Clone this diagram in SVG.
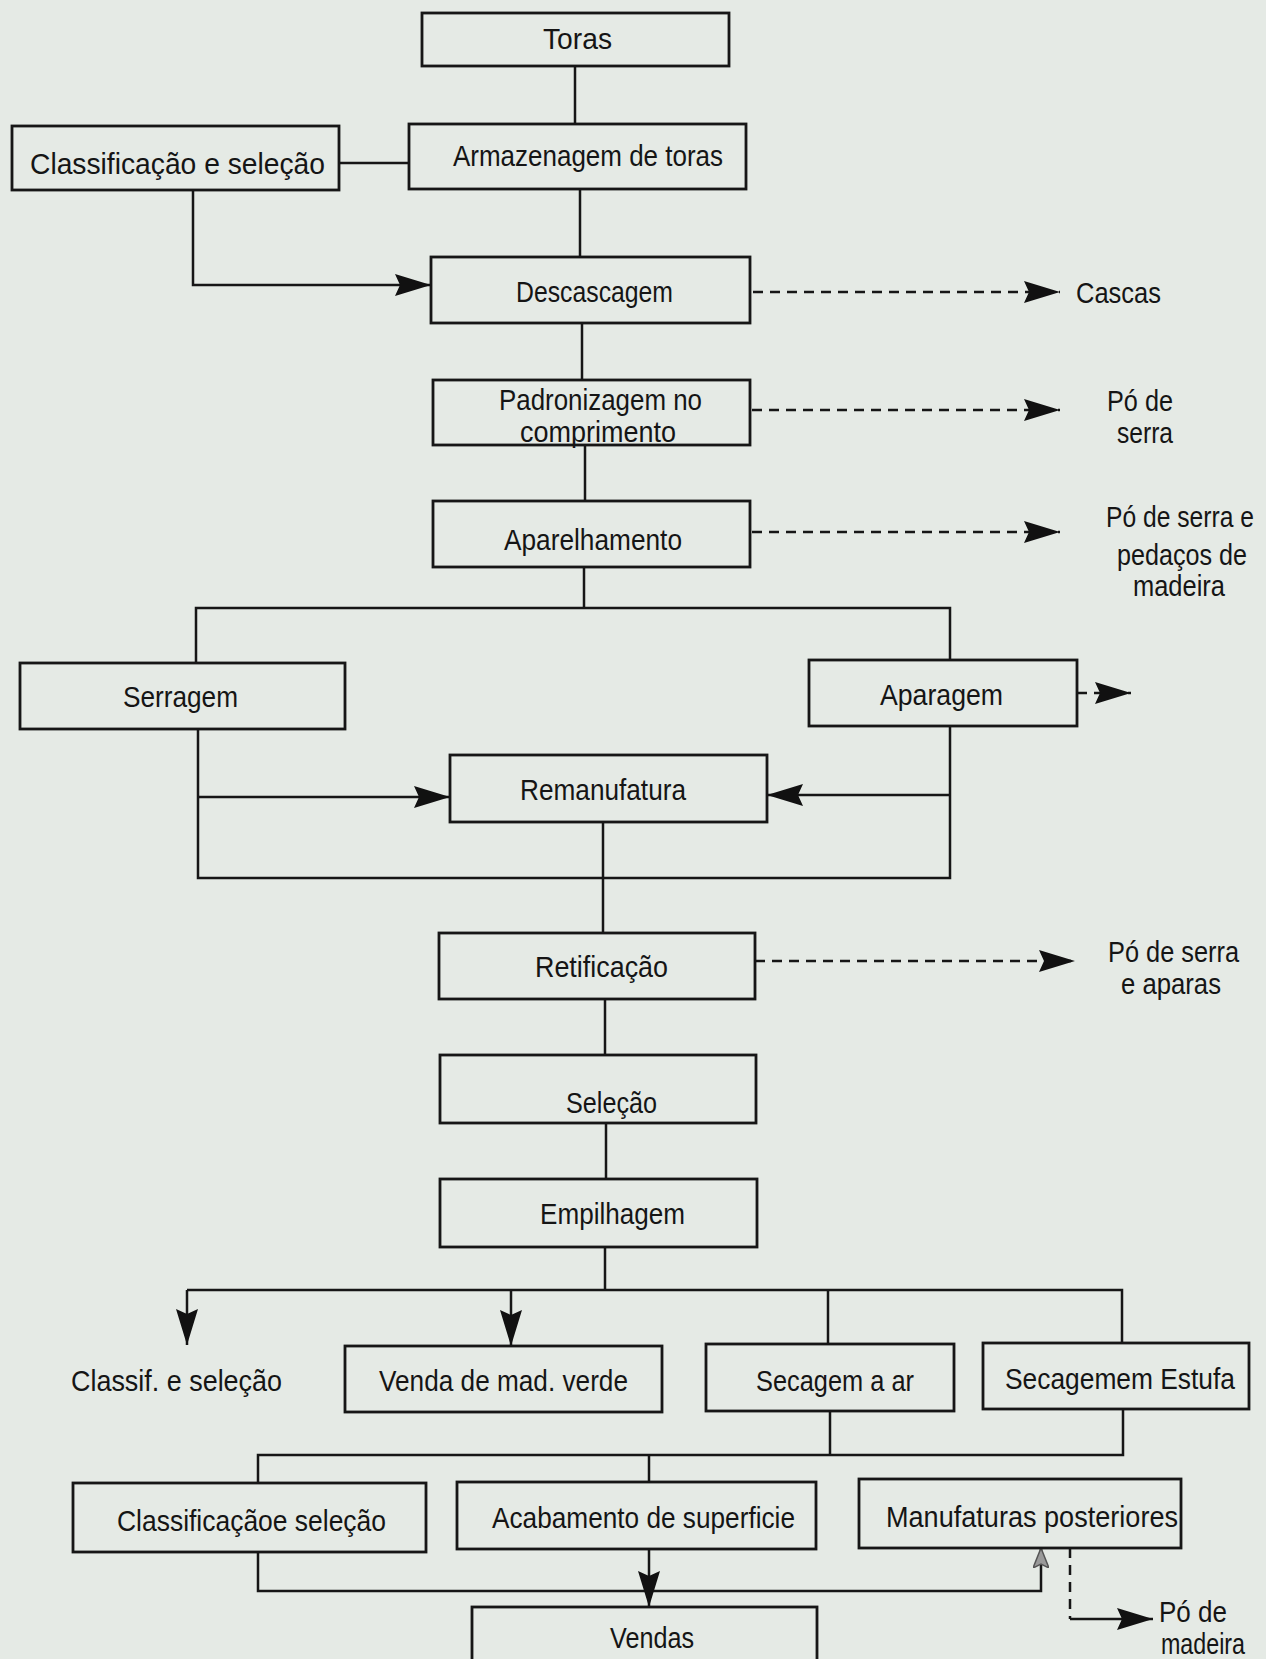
<svg xmlns="http://www.w3.org/2000/svg" width="1266" height="1659" viewBox="0 0 1266 1659">
<defs>
<style>
.bx{fill:none;stroke:#161616;stroke-width:2.8}
.ln{fill:none;stroke:#161616;stroke-width:2.5}
.ds{fill:none;stroke:#161616;stroke-width:2.5;stroke-dasharray:10 7}
.t{font-family:"Liberation Sans Narrow","Liberation Sans",Arial,sans-serif;font-size:30px;fill:#151515}
</style>
<marker id="ah" markerUnits="userSpaceOnUse" viewBox="0 0 36 22" markerWidth="36" markerHeight="22" refX="36" refY="11" orient="auto">
<path d="M0,0 L36,11 L0,22 L5,11 Z" fill="#111"/>
</marker>
<marker id="ahs" markerUnits="userSpaceOnUse" viewBox="0 0 20 16" markerWidth="20" markerHeight="16" refX="20" refY="8" orient="auto">
<path d="M0,0 L20,8 L0,16 L4,8 Z" fill="#9a9a9a" stroke="#555" stroke-width="1.5"/>
</marker>
</defs>
<rect width="1266" height="1659" fill="#e5eae5"/>

<g id="connectors">
<path class="ln" d="M575,66 V124"/>
<path class="ln" d="M339,163 H409"/>
<path class="ln" d="M580,189 V257"/>
<path class="ln" d="M193,190 V285 H431" marker-end="url(#ah)"/>
<path class="ln" d="M582,323 V380"/>
<path class="ln" d="M585,445 V501"/>
<path class="ds" d="M753,292 H1060" marker-end="url(#ah)"/>
<path class="ds" d="M752,410 H1060" marker-end="url(#ah)"/>
<path class="ds" d="M752,532 H1060" marker-end="url(#ah)"/>
<path class="ln" d="M584,567 V608"/>
<path class="ln" d="M196,663 V608 H950 V660"/>
<path class="ds" d="M1077,693 H1131" marker-end="url(#ah)"/>
<path class="ln" d="M198,729 V878 H950 V726"/>
<path class="ln" d="M198,797 H450" marker-end="url(#ah)"/>
<path class="ln" d="M950,795 H767" marker-end="url(#ah)"/>
<path class="ln" d="M603,822 V933"/>
<path class="ds" d="M755,961 H1075" marker-end="url(#ah)"/>
<path class="ln" d="M605,999 V1055"/>
<path class="ln" d="M606,1123 V1179"/>
<path class="ln" d="M605,1247 V1290"/>
<path class="ln" d="M187,1290 H1122 V1343"/>
<path class="ln" d="M187,1290 V1345" marker-end="url(#ah)"/>
<path class="ln" d="M511,1290 V1346" marker-end="url(#ah)"/>
<path class="ln" d="M828,1290 V1344"/>
<path class="ln" d="M830,1411 V1455"/>
<path class="ln" d="M1123,1409 V1455 H258 V1483"/>
<path class="ln" d="M649,1455 V1482"/>
<path class="ln" d="M258,1552 V1591 H1041 V1548" marker-end="url(#ahs)"/>
<path class="ln" d="M649,1549 V1607" marker-end="url(#ah)"/>
<path class="ds" d="M1070,1548 V1619"/>
<path class="ln" d="M1070,1619 H1153" marker-end="url(#ah)"/>
</g>

<g id="toras"><rect class="bx" x="422" y="13" width="307" height="53"/><text class="t" x="543" y="49" textLength="69" lengthAdjust="spacingAndGlyphs">Toras</text></g>
<g id="classificacao-selecao"><rect class="bx" x="12" y="126" width="327" height="64"/><text class="t" x="30" y="174" textLength="295" lengthAdjust="spacingAndGlyphs">Classificação  e  seleção</text></g>
<g id="armazenagem"><rect class="bx" x="409" y="124" width="337" height="65"/><text class="t" x="453" y="166" textLength="270" lengthAdjust="spacingAndGlyphs">Armazenagem de toras</text></g>
<g id="descascagem"><rect class="bx" x="431" y="257" width="319" height="66"/><text class="t" x="516" y="302" textLength="157" lengthAdjust="spacingAndGlyphs">Descascagem</text></g>
<g id="cascas"><text class="t" x="1076" y="303" textLength="85" lengthAdjust="spacingAndGlyphs">Cascas</text></g>
<g id="padronizagem"><rect class="bx" x="433" y="380" width="317" height="65"/><text class="t" x="499" y="410" textLength="203" lengthAdjust="spacingAndGlyphs">Padronizagem no</text><text class="t" x="520" y="442" textLength="156" lengthAdjust="spacingAndGlyphs">comprimento</text></g>
<g id="po-de-serra-1"><text class="t" x="1107" y="411" textLength="66" lengthAdjust="spacingAndGlyphs">Pó de</text><text class="t" x="1117" y="443" textLength="56" lengthAdjust="spacingAndGlyphs">serra</text></g>
<g id="aparelhamento"><rect class="bx" x="433" y="501" width="317" height="66"/><text class="t" x="504" y="550" textLength="178" lengthAdjust="spacingAndGlyphs">Aparelhamento</text></g>
<g id="po-pedacos"><text class="t" x="1106" y="527" textLength="148" lengthAdjust="spacingAndGlyphs">Pó de serra e</text><text class="t" x="1117" y="565" textLength="130" lengthAdjust="spacingAndGlyphs">pedaços de</text><text class="t" x="1133" y="596" textLength="92" lengthAdjust="spacingAndGlyphs">madeira</text></g>
<g id="serragem"><rect class="bx" x="20" y="663" width="325" height="66"/><text class="t" x="123" y="707" textLength="115" lengthAdjust="spacingAndGlyphs">Serragem</text></g>
<g id="aparagem"><rect class="bx" x="809" y="660" width="268" height="66"/><text class="t" x="880" y="705" textLength="123" lengthAdjust="spacingAndGlyphs">Aparagem</text></g>
<g id="remanufatura"><rect class="bx" x="450" y="755" width="317" height="67"/><text class="t" x="520" y="800" textLength="166" lengthAdjust="spacingAndGlyphs">Remanufatura</text></g>
<g id="retificacao"><rect class="bx" x="439" y="933" width="316" height="66"/><text class="t" x="535" y="977" textLength="133" lengthAdjust="spacingAndGlyphs">Retificação</text></g>
<g id="po-aparas"><text class="t" x="1108" y="962" textLength="131" lengthAdjust="spacingAndGlyphs">Pó de serra</text><text class="t" x="1121" y="994" textLength="100" lengthAdjust="spacingAndGlyphs">e aparas</text></g>
<g id="selecao"><rect class="bx" x="440" y="1055" width="316" height="68"/><text class="t" x="566" y="1113" textLength="91" lengthAdjust="spacingAndGlyphs">Seleção</text></g>
<g id="empilhagem"><rect class="bx" x="440" y="1179" width="317" height="68"/><text class="t" x="540" y="1224" textLength="145" lengthAdjust="spacingAndGlyphs">Empilhagem</text></g>
<g id="classif-selecao"><text class="t" x="71" y="1391" textLength="211" lengthAdjust="spacingAndGlyphs">Classif. e seleção</text></g>
<g id="venda-verde"><rect class="bx" x="345" y="1346" width="317" height="66"/><text class="t" x="379" y="1391" textLength="249" lengthAdjust="spacingAndGlyphs">Venda de mad. verde</text></g>
<g id="secagem-ar"><rect class="bx" x="706" y="1344" width="248" height="67"/><text class="t" x="756" y="1391" textLength="158" lengthAdjust="spacingAndGlyphs">Secagem a ar</text></g>
<g id="secagem-estufa"><rect class="bx" x="983" y="1343" width="266" height="66"/><text class="t" x="1005" y="1389" textLength="230" lengthAdjust="spacingAndGlyphs">Secagemem Estufa</text></g>
<g id="classificacao-selecao-2"><rect class="bx" x="73" y="1483" width="353" height="69"/><text class="t" x="117" y="1531" textLength="269" lengthAdjust="spacingAndGlyphs">Classificaçãoe seleção</text></g>
<g id="acabamento"><rect class="bx" x="457" y="1482" width="359" height="67"/><text class="t" x="492" y="1528" textLength="303" lengthAdjust="spacingAndGlyphs">Acabamento de superficie</text></g>
<g id="manufaturas"><rect class="bx" x="859" y="1479" width="322" height="69"/><text class="t" x="886" y="1527" textLength="292" lengthAdjust="spacingAndGlyphs">Manufaturas posteriores</text></g>
<g id="vendas"><rect class="bx" x="472" y="1607" width="345" height="70"/><text class="t" x="610" y="1648" textLength="84" lengthAdjust="spacingAndGlyphs">Vendas</text></g>
<g id="po-madeira"><text class="t" x="1159" y="1622" textLength="68" lengthAdjust="spacingAndGlyphs">Pó de</text><text class="t" x="1161" y="1654" textLength="84" lengthAdjust="spacingAndGlyphs">madeira</text></g>
</svg>
